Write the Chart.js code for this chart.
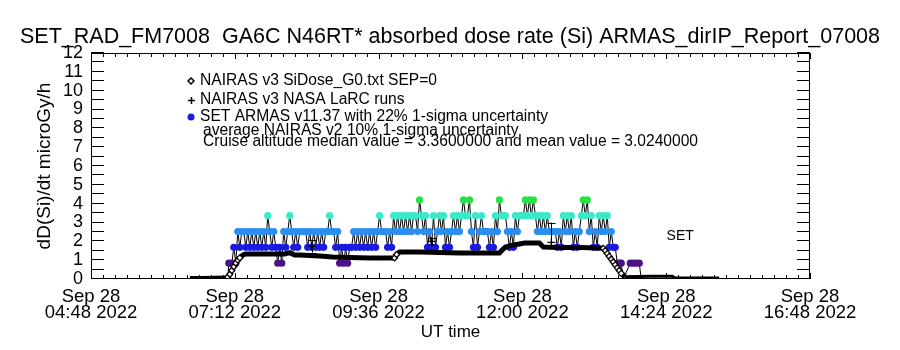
<!DOCTYPE html>
<html>
<head>
<meta charset="utf-8">
<script src="https://cdn.jsdelivr.net/npm/chart.js@4/dist/chart.umd.min.js"></script>
<style>
  html, body { margin: 0; padding: 0; background: #fff; }
  #wrap { width: 900px; height: 350px; }
</style>
</head>
<body>
<div id="wrap"><canvas id="doseChart" width="900" height="350"></canvas></div>
<script>
// 標題與標籤
const chartTitle = 'SET_RAD_FM7008  GA6C N46RT* absorbed dose rate (Si) ARMAS_dirIP_Report_07008';
const yTitle = 'dD(Si)/dt microGy/h';
const xTitle = 'UT time';
const legendLines = [
  'NAIRAS v3 SiDose_G0.txt SEP=0',
  'NAIRAS v3 NASA LaRC runs',
  'SET ARMAS v11.37 with 22% 1-sigma uncertainty',
  'average NAIRAS v2 10% 1-sigma uncertainty',
  'Cruise altitude median value = 3.3600000 and mean value = 3.0240000'
];
const setLabel = 'SET';
const setLabelAt = { x: 878, y: 2.25 };

// x軸 (UT 分鐘) 主刻度與標籤
const xTickValues = [288, 432, 576, 720, 864, 1008];
const xTickLabels = [
  ['Sep 28', '04:48 2022'],
  ['Sep 28', '07:12 2022'],
  ['Sep 28', '09:36 2022'],
  ['Sep 28', '12:00 2022'],
  ['Sep 28', '14:24 2022'],
  ['Sep 28', '16:48 2022']
];

// NAIRAS v3 SiDose (黑線)
const nairasMin = [387, 397, 425, 427, 429, 431, 433, 435, 437, 439, 441, 443, 457, 482, 487, 492,
  497, 517, 530, 547, 567, 592, 594, 597, 617, 637, 657, 697, 700, 703, 710, 717, 722, 737, 741,
  757, 777, 797, 801, 803, 805, 807, 809, 811, 813, 815, 817, 819, 821, 823, 847, 870, 873, 917];
const nairasDose = [0.08, 0.08, 0.1, 0.25, 0.45, 0.65, 0.85, 1.0, 1.12, 1.22, 1.3, 1.33, 1.33, 1.33, 1.4, 1.27,
  1.27, 1.22, 1.17, 1.14, 1.12, 1.12, 1.3, 1.43, 1.43, 1.41, 1.38, 1.38, 1.55, 1.7, 1.8, 1.86, 1.91, 1.91, 1.7,
  1.67, 1.67, 1.65, 1.63, 1.5, 1.35, 1.2, 1.05, 0.9, 0.75, 0.6, 0.45, 0.3, 0.2, 0.12, 0.14, 0.14, 0.05, 0.05];

// NAIRAS v3 NASA LaRC runs (+)
const larcMin = [509, 629, 749];
const larcDose = [1.75, 2.0, 1.95];
const larcLow = [1.4, 1.8, 1.8];
const larcHigh = [2.05, 2.2, 3.0];

// SET ARMAS v11.37
const armasMin = [425, 426, 429, 431, 433, 435, 437, 439, 441, 443, 445, 447, 449, 451, 453, 455, 457, 459,
  461, 463, 465, 467, 469, 471, 473, 475, 477, 479, 481, 483, 485, 487, 489, 491, 493, 495, 497, 500, 503,
  505, 507, 509, 511, 513, 515, 517, 519, 521, 523, 525, 527, 529, 531, 533, 535, 537, 539, 541, 543, 545,
  547, 549, 551, 553, 555, 557, 559, 561, 563, 565, 567, 569, 571, 573, 575, 577, 579, 581, 583, 585, 587,
  589, 591, 593, 595, 597, 599, 601, 603, 605, 607, 609, 611, 613, 615, 617, 619, 621, 623, 625, 627, 629,
  631, 633, 635, 637, 639, 641, 643, 645, 647, 649, 651, 653, 655, 657, 659, 661, 663, 665, 667, 669, 671,
  673, 675, 677, 679, 681, 683, 685, 687, 689, 691, 693, 695, 697, 699, 701, 703, 705, 707, 709, 711, 713,
  715, 717, 719, 721, 723, 725, 727, 729, 731, 733, 735, 737, 739, 741, 743, 745, 747, 749, 751, 753, 755,
  757, 759, 761, 763, 765, 767, 769, 771, 773, 775, 777, 779, 781, 783, 785, 787, 789, 791, 793, 795, 797,
  799, 801, 803, 805, 807, 809, 811, 813, 815, 817, 819, 821, 828, 831, 834, 837, 839];
const armasDose = [0, 0.84, 0.84, 1.68, 0.84, 2.52, 1.68, 2.52, 2.52, 1.68, 2.52, 1.68, 2.52, 1.68, 2.52, 1.68, 2.52, 1.68,
  2.52, 1.68, 3.36, 2.52, 1.68, 2.52, 1.68, 0.84, 1.68, 0.84, 2.52, 1.68, 2.52, 3.36, 2.52, 1.68, 2.52, 1.68, 2.52, 2.52, 2.52,
  1.68, 2.52, 1.68, 2.52, 1.68, 2.52, 1.68, 2.52, 1.68, 2.52, 2.52, 3.36, 2.52, 2.52, 1.68, 2.52, 0.84, 1.68, 0.84, 1.68, 0.84,
  1.68, 1.68, 2.52, 1.68, 2.52, 1.68, 2.52, 1.68, 2.52, 1.68, 2.52, 1.68, 2.52, 1.68, 2.52, 3.36, 2.52, 2.52, 2.52, 1.68, 2.52,
  1.68, 3.36, 2.52, 3.36, 2.52, 3.36, 2.52, 3.36, 2.52, 3.36, 2.52, 3.36, 3.36, 2.52, 4.2, 3.36, 2.52, 3.36, 1.68, 2.52, 1.68,
  3.36, 1.68, 2.52, 3.36, 2.52, 3.36, 1.68, 2.52, 1.68, 2.52, 3.36, 2.52, 3.36, 2.52, 3.36, 4.2, 3.36, 3.36, 4.2, 2.52, 1.68,
  3.36, 1.68, 2.52, 3.36, 2.52, 2.52, 2.52, 1.68, 2.52, 1.68, 3.36, 2.52, 4.2, 3.36, 3.36, 3.36, 2.52, 1.68, 2.52, 1.68, 3.36,
  2.52, 3.36, 3.36, 3.36, 4.2, 3.36, 4.2, 3.36, 4.2, 3.36, 2.52, 3.36, 2.52, 3.36, 2.52, 3.36, 2.52, 2.52, 2.52, 2.52, 1.68,
  2.52, 1.68, 3.36, 2.52, 3.36, 2.52, 3.36, 1.68, 2.52, 1.68, 2.52, 3.36, 4.2, 3.36, 4.2, 2.52, 3.36, 1.68, 2.52, 1.68, 3.36,
  2.52, 3.36, 2.52, 3.36, 1.68, 2.52, 1.68, 1.68, 0.84, 0.84, 0.84, 0, 0.84, 0.84, 0.84, 0.84, 0];

// ARMAS 各量級顏色
const armasLevels = [0.84, 1.68, 2.52, 3.36, 4.2];
const armasColors = ['#4b1284', '#1a1ae0', '#2a8ef0', '#3ce8c8', '#28e048'];

const FONT = '"Liberation Sans", "DejaVu Sans", sans-serif';

function armasColor(v) {
  let best = 0;
  armasLevels.forEach((lv, i) => { if (Math.abs(lv - v) < Math.abs(armasLevels[best] - v)) best = i; });
  return armasColors[best];
}

// 斜率判斷 (爬升/下降段)
function steep(i0, i1) {
  if (i0 < 0 || i1 >= nairasMin.length) return false;
  return Math.abs(nairasDose[i1] - nairasDose[i0]) / (nairasMin[i1] - nairasMin[i0]) > 0.06;
}

// IDL 風格外框、內向刻度、圖例與誤差線
const idlFrame = {
  id: 'idlFrame',
  afterDatasetsDraw(chart) {
    const { ctx, scales: { x, y } } = chart;
    ctx.save();
    ctx.strokeStyle = '#000';
    ctx.lineWidth = 1;
    ctx.beginPath();
    larcMin.forEach((m, i) => {
      const px = Math.round(x.getPixelForValue(m)) + 0.5;
      const lo = y.getPixelForValue(larcLow[i]);
      const hi = y.getPixelForValue(larcHigh[i]);
      ctx.moveTo(px, lo); ctx.lineTo(px, hi);
      ctx.moveTo(px - 4, Math.round(lo) + 0.5); ctx.lineTo(px + 4, Math.round(lo) + 0.5);
      ctx.moveTo(px - 4, Math.round(hi) + 0.5); ctx.lineTo(px + 4, Math.round(hi) + 0.5);
    });
    ctx.stroke();
    ctx.restore();
  },
  afterDraw(chart) {
    const { ctx, chartArea: a, scales: { x, y } } = chart;
    ctx.save();
    ctx.strokeStyle = '#000';
    ctx.lineWidth = 1;
    ctx.strokeRect(a.left + 0.5, a.top + 0.5, a.right - a.left - 1, a.bottom - a.top - 1);
    ctx.beginPath();
    x.ticks.forEach(t => {
      const px = Math.round(x.getPixelForValue(t.value)) + 0.5;
      const len = xTickValues.some(v => Math.abs(v - t.value) < 0.01) ? 6 : 4;
      ctx.moveTo(px, a.bottom); ctx.lineTo(px, a.bottom - len);
      ctx.moveTo(px, a.top); ctx.lineTo(px, a.top + len);
    });
    y.ticks.forEach(t => {
      const py = Math.round(y.getPixelForValue(t.value)) - 0.5;
      ctx.moveTo(a.left, py); ctx.lineTo(a.left + 13, py);
      ctx.moveTo(a.right, py); ctx.lineTo(a.right - 13, py);
    });
    ctx.stroke();

    // 圖例
    const lx = a.left + 109;
    const mx = a.left + 100;
    const rows = [a.top + 28, a.top + 47, a.top + 64, a.top + 78, a.top + 89];
    ctx.fillStyle = '#000';
    ctx.font = '15.6px ' + FONT;
    ctx.textBaseline = 'middle';
    ctx.textAlign = 'left';
    ctx.fillText(legendLines[0], lx, rows[0]);
    ctx.fillText(legendLines[1], lx, rows[1]);
    ctx.fillText(legendLines[2], lx, rows[2]);
    ctx.fillText(legendLines[3], lx + 3, rows[3]);
    ctx.fillText(legendLines[4], lx + 3, rows[4]);
    // 圖例標記
    ctx.beginPath();
    ctx.moveTo(mx, rows[0] - 3); ctx.lineTo(mx + 3, rows[0]);
    ctx.lineTo(mx, rows[0] + 3); ctx.lineTo(mx - 3, rows[0]); ctx.closePath();
    ctx.lineWidth = 1.5;
    ctx.stroke();
    ctx.beginPath();
    ctx.moveTo(mx - 3, rows[1] + 0.5); ctx.lineTo(mx + 4, rows[1] + 0.5);
    ctx.moveTo(mx + 0.5, rows[1] - 3); ctx.lineTo(mx + 0.5, rows[1] + 4);
    ctx.stroke();
    ctx.fillStyle = armasColors[1];
    ctx.beginPath();
    ctx.arc(mx, rows[2], 3.5, 0, Math.PI * 2);
    ctx.fill();

    // SET 標示
    ctx.fillStyle = '#000';
    ctx.font = '14px ' + FONT;
    ctx.textAlign = 'center';
    ctx.fillText(setLabel, x.getPixelForValue(setLabelAt.x), y.getPixelForValue(setLabelAt.y));
    ctx.restore();
  }
};

const nairasData = nairasMin.map((m, i) => ({ x: m, y: nairasDose[i] }));
const larcData = larcMin.map((m, i) => ({ x: m, y: larcDose[i] }));
const armasData = armasMin.map((m, i) => ({ x: m, y: armasDose[i] }));

new Chart(document.getElementById('doseChart').getContext('2d'), {
  type: 'line',
  data: {
    datasets: [
      {
        label: legendLines[0],
        data: nairasData,
        borderColor: '#000',
        borderWidth: 5,
        pointStyle: 'rectRot',
        pointRadius: ctx => (steep(ctx.dataIndex - 1, ctx.dataIndex) || steep(ctx.dataIndex, ctx.dataIndex + 1)) ? 3 : 0,
        pointBackgroundColor: '#fff',
        pointBorderColor: '#000',
        pointBorderWidth: 1.3,
        segment: {
          borderWidth: ctx => steep(ctx.p0DataIndex, ctx.p1DataIndex) ? 1.5
            : (nairasDose[ctx.p0DataIndex] < 0.2 && nairasDose[ctx.p1DataIndex] < 0.2 ? 3 : 5)
        },
        tension: 0
      },
      {
        label: legendLines[1],
        data: larcData,
        showLine: false,
        pointStyle: 'cross',
        pointRadius: 4,
        pointBorderColor: '#000',
        pointBorderWidth: 1.3
      },
      {
        label: legendLines[2],
        data: armasData,
        borderColor: '#000',
        borderWidth: 1,
        pointStyle: 'circle',
        pointRadius: ctx => armasDose[ctx.dataIndex] > 0 ? 3.6 : 0,
        pointBorderWidth: 0,
        pointBackgroundColor: ctx => armasColor(armasDose[ctx.dataIndex]),
        tension: 0
      }
    ]
  },
  options: {
    responsive: false,
    animation: false,
    layout: { padding: 0 },
    plugins: {
      legend: { display: false },
      tooltip: { enabled: false },
      title: {
        display: true,
        text: chartTitle,
        color: '#000',
        font: { family: FONT, size: 21.5, weight: 'normal' },
        padding: { top: 24, bottom: 3.2 }
      }
    },
    scales: {
      x: {
        type: 'linear',
        min: 288,
        max: 1008,
        grid: { display: false, drawTicks: false },
        border: { display: false },
        ticks: {
          stepSize: 12,
          maxTicksLimit: 100,
          autoSkip: false,
          maxRotation: 0,
          padding: 10,
          color: '#000',
          font: { family: FONT, size: 18.5, lineHeight: 0.865 },
          callback: v => {
            const i = xTickValues.findIndex(t => Math.abs(t - v) < 0.01);
            return i >= 0 ? xTickLabels[i] : '';
          }
        },
        title: {
          display: true,
          text: xTitle,
          color: '#000',
          font: { family: FONT, size: 17 },
          padding: { top: 0, bottom: 7 }
        },
        afterFit: scale => { scale.height = 71; }
      },
      y: {
        min: 0,
        max: 12,
        grid: { display: false, drawTicks: false },
        border: { display: false },
        ticks: {
          stepSize: 0.5,
          autoSkip: false,
          padding: 8,
          color: '#000',
          font: { family: FONT, size: 18 },
          callback: v => Number.isInteger(v) ? String(v) : ''
        },
        title: {
          display: true,
          text: yTitle,
          color: '#000',
          font: { family: FONT, size: 19 },
          padding: { top: 33.6, bottom: 0 }
        },
        afterFit: scale => { scale.width = 91; }
      },
      // 右側留白 (IDL 圖框右邊界)
      yRight: {
        position: 'right',
        display: true,
        grid: { display: false, drawTicks: false },
        border: { display: false },
        ticks: { display: false },
        afterFit: scale => { scale.width = 90; }
      }
    }
  },
  plugins: [idlFrame]
});
</script>
</body>
</html>
